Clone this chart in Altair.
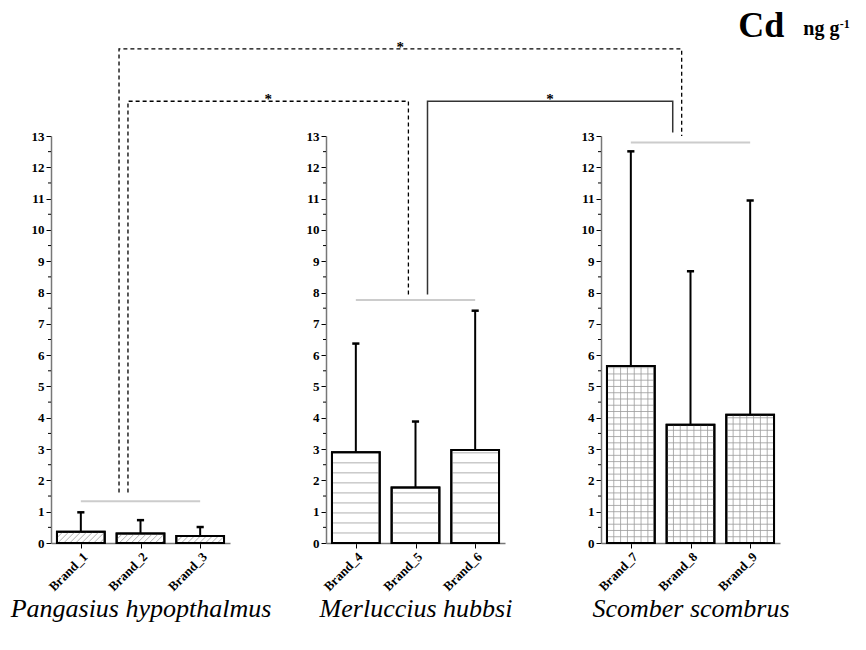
import altair as alt
import pandas as pd

# ---------------- data ----------------
species = ["Pangasius hypopthalmus", "Merluccius hubbsi", "Scomber scombrus"]
brands = [["Brand_1", "Brand_2", "Brand_3"],
          ["Brand_4", "Brand_5", "Brand_6"],
          ["Brand_7", "Brand_8", "Brand_9"]]
means = [[0.36, 0.30, 0.22],
         [2.90, 1.77, 2.97],
         [5.65, 3.78, 4.10]]
sds = [[0.62, 0.43, 0.29],
       [3.47, 2.11, 4.45],
       [6.86, 4.90, 6.84]]
group_lines = [1.33, 7.76, 12.79]
y_ticks = list(range(0, 14))
y_minor = [v + 0.5 for v in range(0, 13)]

# significance brackets (x in panel-1 slot units spanning all panels, y in data units)
br_left_x = [1.14, 1.29, 6.31]
br_right_x = [10.57, 5.99, 10.42]
br_top = [15.78, 14.11, 14.11]
br_left_bottom = [1.61, 1.61, 7.94]
br_right_bottom = [13.0, 7.94, 13.11]
br_dashed = [True, True, False]
br_label = ["*", "*", "*"]

# unit label (panel-3 coordinates)
unit_text = ["Cd", "ng g", "-1"]
unit_x = [2.30, 3.39, 4.00]
unit_y = [16.17, 16.24, 16.46]
unit_size = [36, 20, 12]

# ---------------- layout ----------------
W, H, SPACING = 179, 407, 96
PX_X = W / 3.0
PX_Y = H / 13.0
FONT = "Liberation Serif"
BAR_HALF = 0.4
HATCH = ["diag", "horiz", "grid"]


def hatch_df(p):
    rows = []
    for i, m in enumerate(means[p]):
        L, R = i + 0.5 - BAR_HALF, i + 0.5 + BAR_HALF
        if HATCH[p] == "diag":
            Lp, Rp, hp = L * PX_X, R * PX_X, m * PX_Y
            step = 6.0
            c = Lp - hp
            while c < Rp:
                y0 = max(0.0, Lp - c)
                y1 = min(hp, Rp - c)
                if y1 - y0 > 0.5:
                    rows.append(dict(x=(c + y0) / PX_X, x2=(c + y1) / PX_X,
                                     y=y0 / PX_Y, y2=y1 / PX_Y))
                c += step
        if HATCH[p] in ("horiz", "grid"):
            step = 0.32 if HATCH[p] == "horiz" else 0.2
            k = 1
            while k * step < m - 0.04:
                rows.append(dict(x=L, x2=R, y=k * step, y2=k * step))
                k += 1
        if HATCH[p] == "grid":
            n = 7
            for k in range(1, n):
                xv = L + k * (2 * BAR_HALF) / n
                rows.append(dict(x=xv, x2=xv, y=0.0, y2=m))
    return pd.DataFrame(rows)


def label_expr(names):
    return ("datum.value < 1 ? '%s' : datum.value < 2 ? '%s' : '%s'"
            % (names[0], names[1], names[2]))


def Y(field):
    # every layer keeps its own (identical) y scale; only the bar layer shows the axis
    return alt.Y(field, scale=alt.Scale(domain=[0, 13], nice=False, zero=False), axis=None)


def panel(p):
    df = pd.DataFrame({
        "brand": brands[p],
        "pos": [i + 0.5 for i in range(3)],
        "mean": means[p],
        "sd": sds[p],
    })
    df["x0"] = df["pos"] - BAR_HALF
    df["x1"] = df["pos"] + BAR_HALF
    df["top"] = df["mean"] + df["sd"]
    df["cap_l"] = df["pos"] - 0.06
    df["cap_r"] = df["pos"] + 0.06

    xs = alt.Scale(domain=[0, 3], nice=False, zero=False)
    ys = alt.Scale(domain=[0, 13], nice=False, zero=False)

    xaxis = alt.Axis(values=[i + 0.5 for i in range(3)],
                     labelExpr=label_expr(brands[p]),
                     title=species[p], grid=False, labelAngle=-45,
                     labelAlign="right", labelBaseline="top", labelOverlap=False,
                     labelFont=FONT, labelFontWeight="bold", labelFontSize=13,
                     labelColor="black", labelPadding=2,
                     tickColor="black", tickSize=5, tickWidth=1,
                     domainColor="#777777", domainWidth=1.5,
                     titleFont=FONT, titleFontStyle="italic", titleFontWeight="normal",
                     titleFontSize=26, titleColor="black", titlePadding=2)
    yaxis = alt.Axis(values=y_ticks, grid=False, title=None, labelOverlap=False,
                     labelFont=FONT, labelFontWeight="bold", labelFontSize=13,
                     labelColor="black", labelPadding=2,
                     tickColor="black", tickSize=5, tickWidth=1,
                     domainColor="#777777", domainWidth=1.5)

    base = alt.Chart(df)
    bars = base.mark_bar(fill="white", stroke="black", strokeWidth=2).encode(
        x=alt.X("x0:Q", scale=xs, axis=xaxis), x2="x1:Q",
        y=alt.Y("mean:Q", scale=ys, axis=yaxis), y2=alt.datum(0))
    hatch = alt.Chart(hatch_df(p)).mark_rule(color="#9a9a9a", strokeWidth=0.8).encode(
        x="x:Q", x2="x2:Q", y=Y("y:Q"), y2="y2:Q")
    outline = base.mark_bar(fillOpacity=0, stroke="black", strokeWidth=2).encode(
        x="x0:Q", x2="x1:Q", y=Y("mean:Q"), y2=alt.datum(0))
    err = base.mark_rule(color="black", strokeWidth=2).encode(
        x="pos:Q", y=Y("mean:Q"), y2="top:Q")
    cap = base.mark_rule(color="black", strokeWidth=2.5).encode(
        x="cap_l:Q", x2="cap_r:Q", y=Y("top:Q"))
    gdf = pd.DataFrame({"g": [group_lines[p]], "a": [0.5], "b": [2.5]})
    gline = alt.Chart(gdf).mark_rule(color="#cccccc", strokeWidth=2).encode(
        x="a:Q", x2="b:Q", y=Y("g:Q"))
    mdf = pd.DataFrame({"m": y_minor})
    minor = alt.Chart(mdf).mark_rule(color="black", strokeWidth=1).encode(
        x=alt.value(0), x2=alt.value(-3), y=Y("m:Q"))

    layers = [bars, hatch, outline, err, cap, gline, minor]

    if p == 0:
        rows = []
        for b in range(len(br_left_x)):
            pts = [(br_left_x[b], br_left_bottom[b]), (br_left_x[b], br_top[b]),
                   (br_right_x[b], br_top[b]), (br_right_x[b], br_right_bottom[b])]
            for k, (xx, yy) in enumerate(pts):
                rows.append(dict(id=b, ord=k, x=xx, y=yy, dashed=br_dashed[b]))
        bdf = pd.DataFrame(rows)
        for dashed in (True, False):
            sub = bdf[bdf["dashed"] == dashed]
            mk = (alt.Chart(sub).mark_line(color="black", strokeWidth=1.3, strokeDash=[4, 3])
                  if dashed else
                  alt.Chart(sub).mark_line(color="#333333", strokeWidth=1.5))
            layers.append(mk.encode(x="x:Q", y=Y("y:Q"), detail="id:N", order="ord:Q"))
        sdf = pd.DataFrame({
            "x": [(l + r) / 2 for l, r in zip(br_left_x, br_right_x)],
            "y": br_top, "t": br_label})
        layers.append(alt.Chart(sdf).mark_text(font=FONT, fontSize=15, fontWeight="bold",
                                               baseline="alphabetic", dy=3, color="black").encode(
            x="x:Q", y=Y("y:Q"), text="t:N"))

    if p == 2:
        udf = pd.DataFrame({"t": unit_text, "x": unit_x, "y": unit_y, "s": unit_size})
        layers.append(alt.Chart(udf).mark_text(font=FONT, fontWeight="bold", align="left",
                                               baseline="alphabetic", color="black").encode(
            x="x:Q", y=Y("y:Q"), text="t:N", size=alt.Size("s:Q", scale=None)))

    return alt.layer(*layers).resolve_scale(y="independent").properties(width=W, height=H)


chart = alt.hconcat(panel(0), panel(1), panel(2), spacing=SPACING, bounds="flush").configure_view(
    stroke=None).configure_axis(labelOverlap=False).properties(
    background="white", padding={"left": 10, "top": 7, "right": 5, "bottom": 5})

chart.save("out.html", embed_options={"renderer": "svg", "actions": False})
